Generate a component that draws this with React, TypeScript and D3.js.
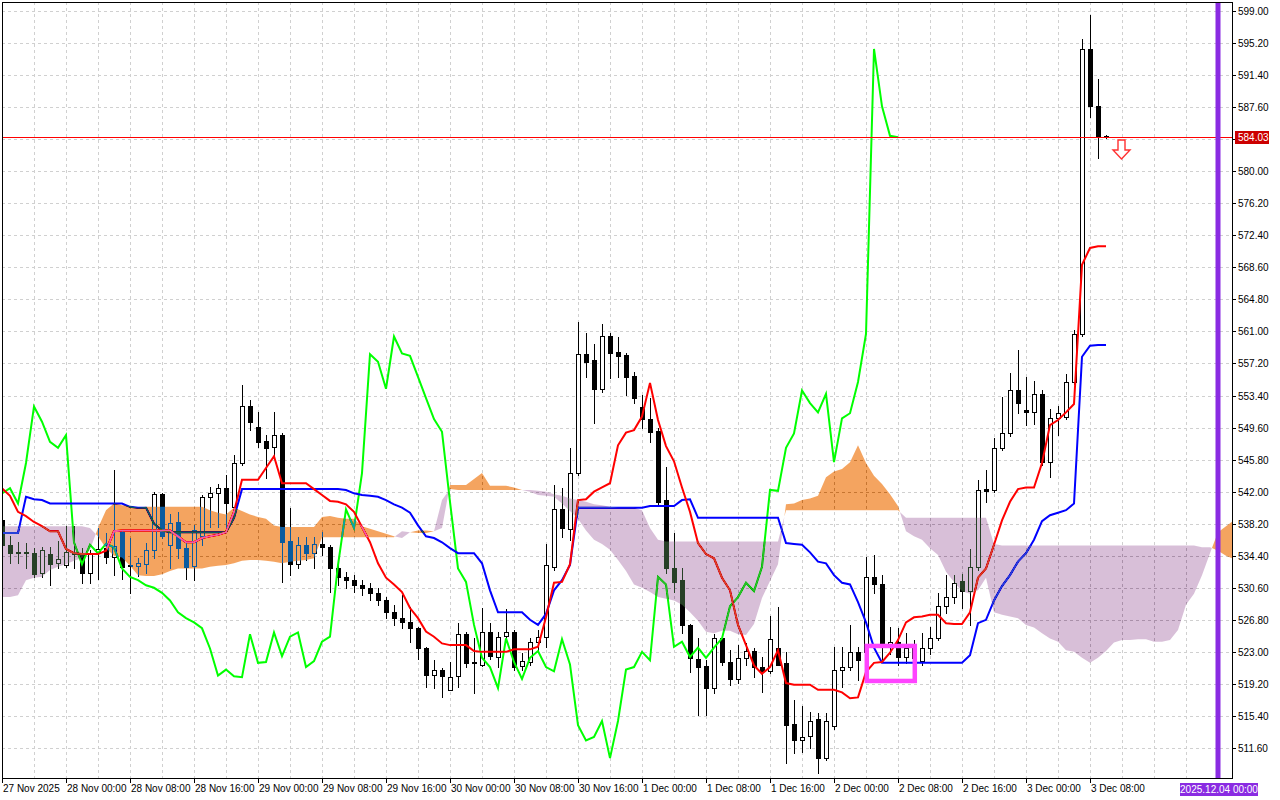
import React from "react";
import * as d3 from "d3";

// ---------- DATA ----------
const timeLabels = [
  "27 Nov 2025", "28 Nov 00:00", "28 Nov 08:00", "28 Nov 16:00", "29 Nov 00:00", "29 Nov 08:00",
  "29 Nov 16:00", "30 Nov 00:00", "30 Nov 08:00", "30 Nov 16:00", "1 Dec 00:00", "1 Dec 08:00",
  "1 Dec 16:00", "2 Dec 00:00", "2 Dec 08:00", "2 Dec 16:00", "3 Dec 00:00", "3 Dec 08:00",
];
const barsPerLabel = 8;

const priceTickLabels = [
  "599.00", "595.20", "591.40", "587.60", "583.80", "580.00", "576.20", "572.40", "568.60", "564.80",
  "561.00", "557.20", "553.40", "549.60", "545.80", "542.00", "538.20", "534.40", "530.60", "526.80",
  "523.00", "519.20", "515.40", "511.60",
];

const open = [
  538.6, 535.7, 534.9, 534.8, 534.7, 532.3, 534.6, 533.5, 533.3, 534.7,
  534.7, 532.3, 534.8, 535.3, 534.2, 537.2, 533.3, 533.2, 533.4, 535.1,
  541.7, 535.7, 538.4, 535.3, 533.2, 536.8, 541.4, 541.8, 542.4, 540.2,
  545.4, 552.1, 549.7, 548.0, 547.3, 548.7, 536.1, 533.4, 535.7, 534.7,
  535.8, 535.4, 532.9, 531.9, 531.5, 530.9, 530.6, 530.0, 529.1, 527.7,
  527.0, 526.5, 525.8, 523.4, 520.2, 520.9, 518.5, 520.1, 525.1, 521.7,
  521.5, 525.3, 522.4, 524.9, 525.3, 521.3, 521.8, 524.2, 524.8, 533.1,
  539.9, 537.6, 544.2, 558.3, 557.6, 554.2, 560.4, 558.6, 558.2, 555.7,
  552.0, 550.6, 549.2, 541.0, 532.9, 531.5, 526.2, 522.2, 521.3, 518.7,
  524.6, 521.8, 519.8, 522.3, 523.1, 521.2, 520.7, 523.4, 521.7, 514.4,
  512.5, 513.0, 515.0, 510.4, 514.2, 520.9, 521.2, 523.0, 523.0, 531.9,
  531.0, 523.9, 524.2, 522.4, 523.5, 521.9, 523.5, 524.6, 528.4, 529.5,
  531.4, 530.2, 533.1, 542.3, 542.2, 547.2, 548.9, 554.0, 551.7, 551.4,
  553.6, 545.5, 550.7, 550.8, 555.0, 560.7, 594.5, 587.7, 584.2,
];
const high = [
  539.0, 536.8, 536.0, 535.9, 535.3, 535.4, 535.4, 536.1, 537.9, 537.9,
  535.3, 535.1, 537.7, 537.1, 544.6, 537.4, 536.5, 534.1, 535.9, 542.0,
  541.8, 539.3, 539.6, 535.9, 538.0, 541.6, 542.5, 542.9, 544.0, 546.3,
  554.6, 552.9, 551.5, 548.7, 551.5, 549.0, 540.1, 536.6, 536.6, 536.6,
  537.2, 535.7, 533.3, 532.5, 532.1, 531.5, 531.2, 530.6, 529.5, 528.5,
  529.7, 528.3, 525.9, 523.6, 522.0, 521.1, 521.8, 526.4, 525.3, 524.7,
  528.2, 526.4, 525.3, 528.1, 525.6, 522.9, 524.7, 525.6, 535.8, 542.8,
  542.4, 547.2, 562.1, 560.8, 559.5, 561.9, 560.8, 560.3, 558.4, 556.2,
  553.5, 553.1, 549.6, 544.9, 537.1, 532.9, 526.3, 524.7, 522.0, 525.1,
  525.0, 523.2, 523.8, 524.0, 523.4, 522.4, 527.2, 528.3, 523.0, 517.3,
  516.6, 515.9, 515.7, 515.7, 523.6, 523.6, 526.2, 523.6, 534.2, 534.5,
  532.1, 525.9, 525.8, 525.2, 524.4, 525.2, 525.9, 530.0, 532.1, 532.1,
  532.2, 535.2, 543.4, 544.6, 548.4, 553.2, 556.1, 558.8, 555.6, 555.1,
  554.0, 551.8, 552.2, 556.0, 561.2, 595.7, 598.5, 590.9, 584.3,
];
const low = [
  535.4, 533.5, 533.5, 532.9, 531.9, 531.9, 530.9, 532.9, 533.1, 532.9,
  531.2, 531.2, 531.7, 533.5, 532.1, 531.7, 530.0, 532.0, 532.3, 534.1,
  536.5, 532.9, 534.1, 531.7, 531.5, 535.7, 537.8, 537.8, 537.8, 539.8,
  545.2, 549.3, 547.3, 543.6, 546.0, 531.3, 532.1, 532.9, 533.9, 532.9,
  534.5, 530.1, 530.9, 530.6, 530.1, 529.7, 529.1, 528.6, 527.0, 526.2,
  525.8, 524.2, 522.1, 518.8, 518.7, 517.6, 518.5, 518.8, 521.2, 518.1,
  521.3, 522.2, 521.2, 524.5, 520.8, 520.8, 521.4, 523.2, 523.6, 532.7,
  536.6, 536.3, 544.0, 555.6, 550.1, 553.8, 555.5, 555.6, 553.5, 552.5,
  549.5, 547.9, 540.4, 532.3, 530.1, 525.2, 520.6, 515.5, 515.5, 518.1,
  521.4, 519.1, 519.3, 521.4, 520.0, 518.2, 520.5, 521.5, 509.8, 511.0,
  511.1, 511.6, 508.6, 510.2, 513.9, 518.8, 520.9, 519.7, 522.6, 530.0,
  522.1, 522.8, 521.4, 521.7, 521.8, 521.4, 522.8, 524.4, 527.6, 528.8,
  528.2, 526.2, 532.7, 540.8, 541.9, 546.9, 548.6, 551.3, 549.9, 550.0,
  545.2, 543.7, 548.7, 550.6, 554.8, 560.5, 586.4, 581.6, 583.9,
];
const close = [
  535.7, 534.7, 534.7, 534.7, 532.2, 535.1, 533.4, 534.0, 534.8, 534.6,
  532.3, 534.6, 535.2, 534.2, 535.5, 533.1, 533.2, 533.5, 535.1, 541.7,
  536.8, 538.3, 535.3, 533.1, 537.4, 541.4, 541.8, 542.4, 540.6, 545.4,
  552.1, 550.3, 547.9, 547.2, 548.7, 536.0, 533.4, 535.7, 534.7, 535.8,
  535.4, 532.9, 531.9, 531.5, 530.9, 530.6, 530.0, 529.1, 527.7, 527.0,
  526.5, 525.8, 523.4, 520.2, 520.9, 520.1, 520.0, 525.1, 521.7, 521.8,
  525.3, 522.5, 524.8, 525.3, 521.2, 521.9, 524.2, 524.8, 533.3, 539.9,
  537.7, 544.2, 558.3, 557.4, 554.2, 560.4, 558.4, 558.1, 555.6, 553.1,
  550.6, 549.1, 540.8, 532.9, 531.3, 526.2, 522.3, 521.2, 518.7, 524.6,
  521.8, 519.8, 522.3, 523.1, 521.2, 520.7, 524.5, 521.5, 514.3, 512.5,
  512.9, 514.8, 510.4, 514.8, 520.9, 521.2, 523.0, 522.0, 531.9, 531.0,
  523.6, 524.2, 522.4, 523.5, 522.3, 523.5, 524.6, 528.4, 529.5, 531.2,
  530.2, 533.1, 542.2, 542.1, 547.2, 548.9, 554.0, 552.5, 551.4, 553.6,
  545.5, 550.7, 551.3, 555.0, 560.7, 594.5, 587.7, 584.2, 584.03,
];

// Ichimoku: Tenkan-sen (red), Kijun-sen (blue)
const tenkan = [
  542.4, 541.5, 539.6, 539.1, 538.4, 537.9, 537.3, 537.3, 535.2, 534.7,
  534.6, 534.6, 534.6, 535.0, 537.3, 537.4, 537.4, 537.4, 537.4, 537.4,
  537.4, 537.4, 536.7, 536.0, 536.0, 536.5, 536.7, 536.9, 537.2, 539.6,
  543.4, 543.4, 543.4, 544.8, 546.2, 543.0, 543.0, 543.0, 543.0, 542.3,
  541.6, 540.9, 540.8, 540.5, 539.6, 537.8, 536.0, 533.5, 531.8, 531.0,
  530.1, 528.2, 527.0, 525.4, 524.8, 524.0, 523.8, 523.8, 523.8, 523.1,
  523.0, 523.0, 523.0, 523.0, 523.3, 523.3, 523.3, 523.6, 527.1, 531.2,
  531.3, 533.4, 541.0, 541.1, 542.0, 542.5, 543.0, 547.5, 549.0, 549.3,
  550.9, 554.9, 550.5, 547.4, 545.6, 542.5, 539.6, 535.9, 534.6, 534.1,
  531.8, 530.3, 526.2, 523.8, 521.4, 520.4, 521.2, 523.2, 519.3, 519.1,
  519.1, 519.1, 518.5, 518.5, 518.5, 518.2, 517.5, 517.6, 520.6, 521.7,
  521.8, 522.9, 524.4, 526.5, 527.1, 527.2, 527.4, 527.4, 526.4, 526.3,
  526.3, 527.7, 531.8, 532.9, 535.7, 538.6, 540.8, 542.3, 542.5, 542.5,
  545.4, 549.9, 550.5, 551.4, 552.4, 568.9, 570.9, 571.1, 571.1,
];
const kijun = [
  537.1, 537.1, 537.1, 541.4, 541.1, 541.0, 540.6, 540.6, 540.6, 540.6,
  540.6, 540.6, 540.6, 540.6, 540.6, 540.6, 540.2, 540.1, 540.1, 538.2,
  537.4, 537.2, 537.2, 537.2, 537.2, 537.2, 537.2, 537.2, 537.2, 538.9,
  542.3, 542.3, 542.3, 542.3, 542.3, 542.3, 542.3, 542.3, 542.3, 542.3,
  542.3, 542.3, 542.3, 542.2, 541.8, 541.6, 541.5, 541.4, 541.0, 540.5,
  540.1, 539.5, 538.0, 536.7, 536.5, 536.0, 535.3, 534.7, 534.7, 534.7,
  533.5, 530.3, 527.7, 527.7, 527.7, 527.7, 526.8, 526.2, 527.5, 530.3,
  531.5, 533.3, 540.1, 540.1, 540.1, 540.1, 540.1, 540.1, 540.1, 540.1,
  540.1, 540.3, 540.3, 540.3, 540.3, 541.0, 541.1, 538.9, 538.9, 538.9,
  538.9, 538.9, 538.9, 538.9, 538.9, 538.9, 538.9, 538.9, 535.9, 535.8,
  535.7, 534.8, 533.7, 533.5, 532.1, 531.2, 531.0, 528.9, 526.5, 523.5,
  521.7, 521.7, 521.7, 521.7, 521.7, 521.7, 521.7, 521.7, 521.7, 521.7,
  521.7, 522.6, 526.4, 526.8, 529.1, 530.8, 532.1, 533.7, 534.7, 536.3,
  538.5, 539.2, 539.5, 539.8, 540.6, 558.0, 559.3, 559.4, 559.4,
];
// Senkou span A / B (already displaced 26 bars forward)
const spanA = [
  529.5, 529.5, 529.7, 531.5, 531.8, 531.9, 532.7, 533.1, 533.4, 533.8,
  534.1, 535.1, 537.7, 539.8, 540.6, 540.4, 540.3, 540.1, 540.2, 540.2,
  540.2, 540.2, 540.2, 540.2, 540.2, 540.2, 539.8, 539.5, 539.3, 540.1,
  539.7, 539.3, 539.0, 538.8, 538.0, 537.8, 537.8, 537.8, 537.8, 537.8,
  539.0, 539.1, 538.9, 538.8, 538.8, 537.9, 537.6, 537.3, 537.0, 536.7,
  536.5, 537.2, 537.4, 537.4, 537.3, 537.7, 542.8, 542.8, 542.8, 543.5,
  544.2, 542.7, 542.7, 542.7, 542.5, 542.2, 542.0, 541.6, 541.5, 541.4,
  540.6, 539.7, 538.8, 537.4, 536.3, 535.8, 535.1, 533.9, 532.6, 531.0,
  530.6, 530.1, 529.5, 529.3, 529.1, 528.6, 527.7, 526.7, 525.4, 525.2,
  525.5, 525.5, 525.1, 525.0, 526.3, 529.4, 531.4, 533.4, 540.5, 540.6,
  541.0, 541.2, 541.5, 543.7, 544.4, 544.7, 545.5, 547.5, 545.4, 543.9,
  542.9, 541.7, 540.3, 537.3, 536.7, 536.3, 535.3, 534.5, 532.5, 531.3,
  530.2, 529.9, 530.3, 531.8, 527.7, 527.4, 527.2, 527.0, 526.2, 525.9,
  525.2, 524.6, 524.2, 523.2, 523.0, 522.3, 521.7, 522.3, 523.1, 524.1,
  524.4, 524.4, 524.5, 524.5, 524.2, 524.2, 524.4, 525.6, 528.6, 529.9,
  532.1, 534.7, 537.2, 537.9, 538.6,
];
const spanB = [
  537.9, 537.9, 537.9, 537.9, 537.9, 537.9, 537.9, 537.9, 537.9, 537.9,
  537.9, 537.7, 536.7, 535.3, 534.4, 534.2, 533.2, 532.1, 532.0, 532.0,
  532.2, 532.6, 532.9, 532.9, 532.9, 532.9, 533.1, 533.2, 533.3, 533.5,
  533.8, 533.9, 533.9, 533.8, 533.7, 533.5, 533.7, 533.8, 533.9, 534.1,
  536.6, 536.6, 536.6, 536.6, 536.6, 536.6, 536.6, 536.6, 536.6, 536.6,
  537.3, 537.2, 537.1, 537.1, 537.3, 541.0, 542.3, 542.2, 542.2, 542.2,
  542.2, 542.2, 542.2, 542.2, 542.2, 542.2, 542.2, 542.1, 542.0, 541.7,
  541.5, 541.2, 541.0, 540.8, 540.5, 540.4, 540.2, 540.1, 540.1, 540.1,
  539.8, 537.7, 536.3, 536.1, 536.1, 536.1, 536.1, 536.1, 536.1, 536.1,
  536.1, 536.1, 536.1, 536.1, 536.1, 536.1, 536.1, 536.1, 539.8, 539.8,
  539.8, 539.8, 539.8, 539.8, 539.8, 539.8, 539.8, 539.8, 539.8, 539.8,
  539.8, 539.8, 539.8, 538.9, 538.9, 538.9, 538.9, 538.9, 538.9, 538.9,
  538.9, 538.9, 538.9, 538.9, 535.8, 535.6, 535.6, 535.6, 535.6, 535.6,
  535.6, 535.6, 535.6, 535.6, 535.6, 535.6, 535.6, 535.6, 535.6, 535.6,
  535.6, 535.6, 535.6, 535.6, 535.6, 535.6, 535.6, 535.6, 535.6, 535.6,
  535.4, 535.4, 535.0, 534.4, 534.0,
];
const chikouShift = 26;

const lastPrice = 584.03;
const futureMarkerBar = 152;
const futureMarkerLabel = "2025.12.04 00:00";
const signalArrow = { bar: 140, price: 583.7 };
const highlightBox = { barFrom: 108.1, barTo: 114.1, priceTop: 523.7, priceBottom: 519.55 };

// ---------- CHART ----------
const W = 1280, H = 800;
const PL = 2, PR = 1232, PT = 2, PB = 778;
const FONT = "'Liberation Sans Narrow', 'Arial Narrow', 'Liberation Sans', Arial, sans-serif";

type CP = { k: number; a: number; b: number };

export default function App() {
  const x = d3.scaleLinear().domain([0, 153.75]).range([PL, PR]);
  const y = d3.scaleLinear().domain([511.6, 599]).range([748, 11]);

  // Cloud points with crossings inserted
  const cloudPts: CP[] = [];
  for (let k = 0; k < spanA.length; k++) {
    if (k > 0) {
      const d0 = spanA[k - 1] - spanB[k - 1];
      const d1 = spanA[k] - spanB[k];
      if (d0 * d1 < 0) {
        const t = d0 / (d0 - d1);
        cloudPts.push({
          k: k - 1 + t,
          a: spanA[k - 1] + t * (spanA[k] - spanA[k - 1]),
          b: spanB[k - 1] + t * (spanB[k] - spanB[k - 1]),
        });
      }
    }
    cloudPts.push({ k, a: spanA[k], b: spanB[k] });
  }
  const bullArea = d3.area<CP>().x((d) => x(d.k)).y0((d) => y(d.b)).y1((d) => y(Math.max(d.a, d.b)));
  const bearArea = d3.area<CP>().x((d) => x(d.k)).y0((d) => y(d.b)).y1((d) => y(Math.min(d.a, d.b)));

  const line = d3.line<[number, number]>().x((d) => x(d[0])).y((d) => y(d[1]));
  const tenkanPath = line(tenkan.map((v, i) => [i, v] as [number, number]));
  const kijunPath = line(kijun.map((v, i) => [i, v] as [number, number]));
  const chikouPath = line(close.slice(chikouShift).map((v, i) => [i, v] as [number, number]));

  const vGrid: number[] = [];
  for (let k = 4; x(k) < PR; k += 4) vGrid.push(k);

  const lastY = Math.round(y(lastPrice));
  const markerX = x(futureMarkerBar);

  const ax = x(signalArrow.bar) - 0.5;
  const ay = y(signalArrow.price);
  const arrowD = `M${ax - 3.5},${ay} L${ax + 3.5},${ay} L${ax + 3.5},${ay + 10} L${ax + 8.5},${ay + 10} L${ax},${ay + 19} L${ax - 8.5},${ay + 10} L${ax - 3.5},${ay + 10} Z`;

  return (
    <svg width={W} height={H} style={{ position: "absolute", left: 0, top: 0, background: "#fff" }}
      fontFamily={FONT}>
      <defs>
        <clipPath id="plotClip">
          <rect x={PL} y={PT} width={PR - PL} height={PB - PT} />
        </clipPath>
      </defs>
      <rect x={0} y={0} width={W} height={H} fill="#fff" />

      <g clipPath="url(#plotClip)">
        {/* opaque backdrop inside the clipped (isolated) group so the cloud blend works */}
        <rect x={PL} y={PT} width={PR - PL} height={PB - PT} fill="#fff" />

        {/* grid */}
        {priceTickLabels.map((t) => {
          const yy = Math.round(y(+t)) + 0.5;
          return <line key={"h" + t} x1={PL} x2={PR} y1={yy} y2={yy} stroke="#d0d0d0" strokeDasharray="3,3" />;
        })}
        {vGrid.map((k) => {
          const xx = Math.round(x(k)) + 0.5;
          return <line key={"v" + k} x1={xx} x2={xx} y1={PT} y2={PB} stroke="#d0d0d0" strokeDasharray="3,3" />;
        })}

        {/* candles */}
        {open.map((o, i) => {
          const cx = Math.round(x(i));
          const c = close[i];
          const top = Math.round(y(Math.max(o, c)));
          const bot = Math.round(y(Math.min(o, c)));
          const bull = c >= o;
          return (
            <g key={"c" + i}>
              <line x1={cx + 0.5} x2={cx + 0.5} y1={Math.round(y(high[i]))} y2={Math.round(y(low[i])) + 1} stroke="#000" />
              {bot - top < 1 ? (
                <line x1={cx - 2} x2={cx + 3} y1={top + 0.5} y2={top + 0.5} stroke="#000" />
              ) : (
                <rect x={cx - 1.5} y={top + 0.5} width={4} height={bot - top} fill={bull ? "#fff" : "#000"} stroke="#000" />
              )}
            </g>
          );
        })}

        {/* ichimoku lines */}
        <path d={chikouPath || ""} fill="none" stroke="#00ff00" strokeWidth={2} />
        <path d={kijunPath || ""} fill="none" stroke="#0000ff" strokeWidth={2} />
        <path d={tenkanPath || ""} fill="none" stroke="#ff0000" strokeWidth={2} />

        {/* cloud (inverted colours, difference blend) */}
        <path d={bullArea(cloudPts) || ""} fill="#0b5b9f" style={{ mixBlendMode: "difference" }} />
        <path d={bearArea(cloudPts) || ""} fill="#274027" style={{ mixBlendMode: "difference" }} />

        {/* current price line */}
        <rect x={PL} y={lastY} width={PR - PL} height={1} fill="#ff0000" />

        {/* highlight box */}
        <rect x={x(highlightBox.barFrom)} y={y(highlightBox.priceTop)}
          width={x(highlightBox.barTo) - x(highlightBox.barFrom)}
          height={y(highlightBox.priceBottom) - y(highlightBox.priceTop)}
          fill="none" stroke="#ff44ff" strokeWidth={4.5} />

        {/* arrow */}
        <path d={arrowD} fill="#fff" stroke="#ff3030" strokeWidth={1.4} />

        {/* future marker */}
        <line x1={markerX} x2={markerX} y1={PT} y2={PB} stroke="#8a2be2" strokeWidth={5} />
      </g>

      {/* frame */}
      <rect x={PL + 0.5} y={PT + 0.5} width={PR - PL} height={PB - PT} fill="none" stroke="#000" />

      {/* price axis */}
      {priceTickLabels.map((t) => {
        const yy = Math.round(y(+t)) + 0.5;
        const hidden = Math.abs(y(+t) - y(lastPrice)) < 8;
        return (
          <g key={"pt" + t}>
            <line x1={PR} x2={PR + 4} y1={yy} y2={yy} stroke="#000" />
            {!hidden && (
              <text x={PR + 6} y={yy + 3.5} fontSize={10} fill="#000">{t}</text>
            )}
          </g>
        );
      })}
      <rect x={PR + 3} y={lastY - 6} width={34} height={13} fill="#cc0000" />
      <text x={PR + 6} y={lastY + 4} fontSize={10} fill="#fff">{lastPrice.toFixed(2)}</text>

      {/* time axis */}
      {timeLabels.map((t, i) => {
        const xx = Math.round(x(i * barsPerLabel)) + 0.5;
        return (
          <g key={"tl" + i}>
            <line x1={xx} x2={xx} y1={PB} y2={PB + 5} stroke="#000" />
            <text x={xx + 0.5} y={PB + 14} fontSize={10} fill="#000">{t}</text>
          </g>
        );
      })}
      <rect x={markerX - 38} y={PB + 5} width={78} height={13} fill="#8a2be2" />
      <text x={markerX + 1} y={PB + 15} fontSize={10} fill="#fff" textAnchor="middle">{futureMarkerLabel}</text>
    </svg>
  );
}
